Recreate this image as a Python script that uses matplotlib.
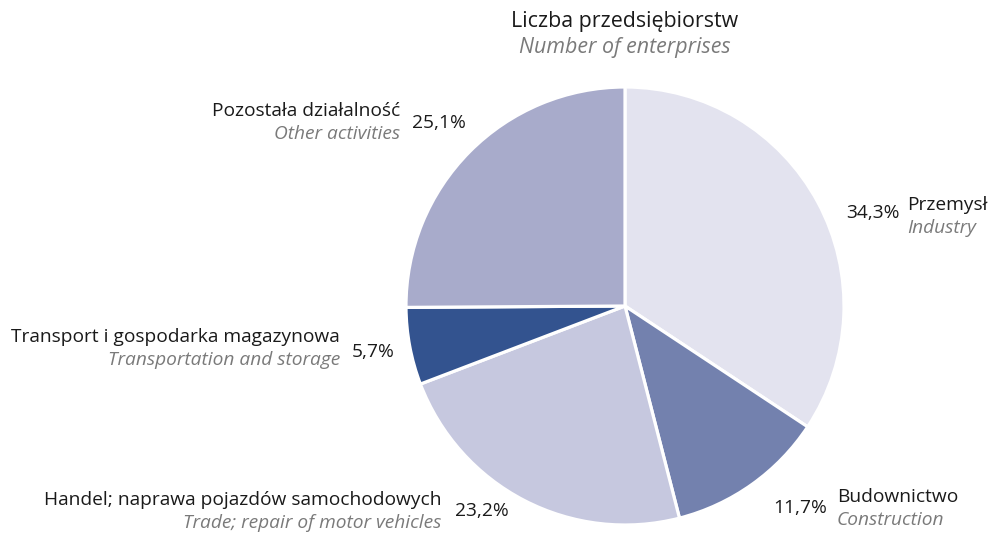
import matplotlib
matplotlib.use("Agg")
import matplotlib.pyplot as plt

plt.rcParams['font.family'] = ['Open Sans', 'DejaVu Sans']

# data, clockwise from the top
sectors_pl = ['Przemysł', 'Budownictwo', 'Handel; naprawa pojazdów samochodowych',
              'Transport i gospodarka magazynowa', 'Pozostała działalność']
sectors_en = ['Industry', 'Construction', 'Trade; repair of motor vehicles',
              'Transportation and storage', 'Other activities']
shares = [34.3, 11.7, 23.2, 5.7, 25.1]
colors = ['#e3e3ef', '#7381ae', '#c6c8df', '#33538f', '#a8abcb']

W, H = 989, 533
fig = plt.figure(figsize=(W / 100, H / 100), dpi=100)
ax = fig.add_axes([0, 0, 1, 1])
ax.set_xlim(0, W)
ax.set_ylim(0, H)
ax.axis('off')

ax.pie(shares, colors=colors, startangle=90, counterclock=False,
       center=(625, H - 306), radius=219,
       wedgeprops=dict(edgecolor='white', linewidth=2.3))
ax.set_xlim(0, W)
ax.set_ylim(0, H)
ax.set_aspect('auto')

black = '#1a1a1a'
grey = '#7a7a7a'
fs = 13.8


def label(i, x, y, ha, px, py):
    # two-line category label plus percentage
    ax.text(x, H - y, sectors_pl[i], ha=ha, va='center', fontsize=fs, color=black)
    ax.text(x, H - y - 23, sectors_en[i], ha=ha, va='center', fontsize=fs,
            color=grey, style='italic')
    ax.text(px, H - py, ('%.1f%%' % shares[i]).replace('.', ','), ha='left',
            va='center', fontsize=fs, color=black)


label(0, 907, 205, 'left', 846, 213)
label(1, 837, 497, 'left', 773, 508)
label(2, 441, 500, 'right', 455, 511)
label(3, 340, 337, 'right', 352, 352)
label(4, 400, 111, 'right', 412, 123)

ax.text(625, H - 21, 'Liczba przedsiębiorstw', ha='center', va='center',
        fontsize=15.4, color=black)
ax.text(625, H - 47, 'Number of enterprises', ha='center', va='center',
        fontsize=15.4, color=grey, style='italic')

fig.savefig('out.png', dpi=100)
